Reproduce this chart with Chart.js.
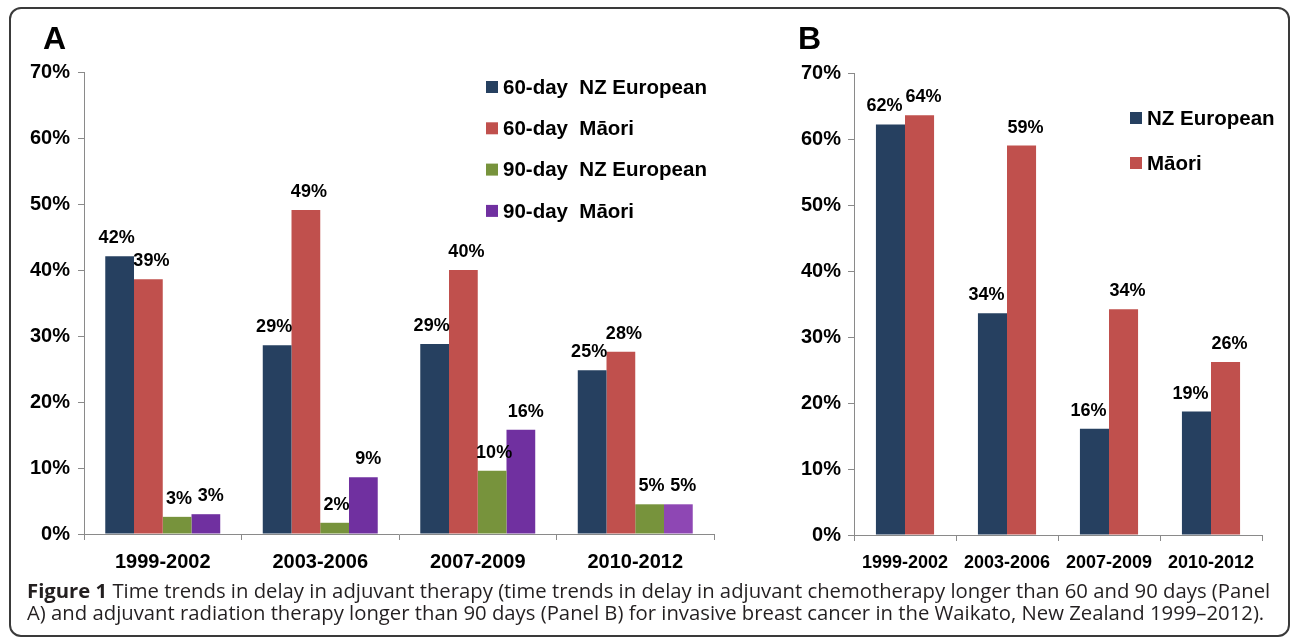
<!DOCTYPE html>
<html>
<head>
<meta charset="utf-8">
<script src="https://cdn.jsdelivr.net/npm/chart.js@4.4.1/dist/chart.umd.min.js"></script>
<style>
  html, body { margin: 0; padding: 0; background: #fff; }
  #wrap { position: relative; width: 1290px; height: 638px; overflow: hidden; background: #fff; }
  #frame { position: absolute; left: 9px; top: 7px; width: 1281px; height: 630px; border: 2px solid #3a3a3a; border-radius: 12px; box-sizing: border-box; }
  .panel { position: absolute; top: 0; }
  .ptitle { position: absolute; font-family: "Liberation Sans", Arial, sans-serif; font-weight: bold; font-size: 32px; line-height: 32px; color: #000; }
  #caption { position: absolute; left: 27px; top: 579px; font-family: "Open Sans", sans-serif; font-size: 20.3px; line-height: 22px; color: #231f20; white-space: nowrap; }
  #caption b { font-weight: bold; }
</style>
</head>
<body>
<div id="wrap">
  <div id="frame"></div>
  <canvas id="chartA" class="panel" width="760" height="580" style="left:0px;width:760px;height:580px;"></canvas>
  <canvas id="chartB" class="panel" width="530" height="580" style="left:760px;width:530px;height:580px;"></canvas>
  <div class="ptitle" style="left:43px;top:22px;">A</div>
  <div class="ptitle" style="left:798px;top:22px;">B</div>
  <div id="caption"><b>Figure 1</b> Time trends in delay in adjuvant therapy (time trends in delay in adjuvant chemotherapy longer than 60 and 90 days (Panel<br>A) and adjuvant radiation therapy longer than 90 days (Panel B) for invasive breast cancer in the Waikato, New Zealand 1999–2012).</div>
</div>
<script>
// ---- data ----
const categories = ['1999-2002', '2003-2006', '2007-2009', '2010-2012'];
const panelA_60_NZEuropean = [42.1, 28.6, 28.8, 24.8];
const panelA_60_Maori      = [38.6, 49.1, 40.0, 27.6];
const panelA_90_NZEuropean = [2.6, 1.7, 9.6, 4.5];
const panelA_90_Maori      = [3.0, 8.6, 15.8, 4.5];
const panelB_NZEuropean    = [62.2, 33.6, 16.1, 18.7];
const panelB_Maori         = [63.6, 59.0, 34.2, 26.2];
const yTickValues = [0, 10, 20, 30, 40, 50, 60, 70];

// ---- style ----
const FONT = '"Liberation Sans", Arial, Helvetica, sans-serif';
const NAVY = '#264060', RED = '#C0504D', GREEN = '#77933C', PURPLE = '#7030A0', PURPLE_LIGHT = '#8E47B4';
const AXIS = '#8a8a8a';

const valueLabels = {
  id: 'valueLabels',
  afterDatasetsDraw(chart, args, opts) {
    const ctx = chart.ctx;
    ctx.save();
    ctx.font = 'bold ' + opts.size + 'px ' + FONT;
    ctx.fillStyle = '#000';
    ctx.textAlign = 'center';
    ctx.textBaseline = 'alphabetic';
    chart.data.datasets.forEach((ds, i) => {
      const meta = chart.getDatasetMeta(i);
      const dx = (opts.dx && opts.dx[i]) || 0;
      meta.data.forEach((bar, j) => {
        const v = ds.data[j];
        ctx.fillText(Math.round(v) + '%', bar.x + dx, bar.y - opts.gap);
      });
    });
    ctx.restore();
  }
};

const boxLegend = {
  id: 'boxLegend',
  afterDraw(chart, args, opts) {
    const ctx = chart.ctx;
    ctx.save();
    ctx.font = 'bold ' + opts.size + 'px ' + FONT;
    ctx.textAlign = 'left';
    ctx.textBaseline = 'middle';
    chart.data.datasets.forEach((ds, i) => {
      const cy = opts.y + i * opts.step;
      const col = Array.isArray(ds.backgroundColor) ? ds.backgroundColor[0] : ds.backgroundColor;
      ctx.fillStyle = col;
      ctx.fillRect(opts.x, cy - opts.box / 2, opts.box, opts.box);
      ctx.fillStyle = '#000';
      ctx.fillText(ds.label, opts.x + opts.box + 5, cy + 1);
    });
    ctx.restore();
  }
};

function yAxis(width, fontSize, pad) {
  return {
    min: 0, max: 70,
    afterFit: s => { s.width = width; },
    afterBuildTicks: s => { s.ticks = yTickValues.map(v => ({ value: v })); },
    ticks: { callback: v => v + '%', color: '#000', padding: pad, font: { family: FONT, size: fontSize, weight: 'bold' } },
    grid: { drawOnChartArea: false, drawTicks: true, tickLength: 6, color: AXIS },
    border: { color: AXIS, width: 1 }
  };
}
function xAxis(height, fontSize, pad) {
  return {
    afterFit: s => { s.height = height; },
    ticks: { color: '#000', padding: pad, maxRotation: 0, autoSkip: false, font: { family: FONT, size: fontSize, weight: 'bold' } },
    grid: { drawOnChartArea: false, drawTicks: true, tickLength: 6, color: AXIS, offset: true },
    border: { color: AXIS, width: 1 }
  };
}

new Chart(document.getElementById('chartA'), {
  type: 'bar',
  data: {
    labels: categories,
    datasets: [
      { label: '60-day  NZ European', data: panelA_60_NZEuropean, backgroundColor: NAVY },
      { label: '60-day  Māori', data: panelA_60_Maori, backgroundColor: RED },
      { label: '90-day  NZ European', data: panelA_90_NZEuropean, backgroundColor: GREEN },
      { label: '90-day  Māori', data: panelA_90_Maori, backgroundColor: [PURPLE, PURPLE, PURPLE, PURPLE_LIGHT] }
    ]
  },
  plugins: [valueLabels, boxLegend],
  options: {
    responsive: false, animation: false, devicePixelRatio: 1,
    layout: { padding: { left: 0, top: 72, right: 46, bottom: 0 } },
    datasets: { bar: { categoryPercentage: 0.73, barPercentage: 1.0, borderWidth: 0 } },
    scales: { x: xAxis(46, 20, 10), y: yAxis(84, 20, 8) },
    plugins: {
      legend: { display: false }, tooltip: { enabled: false },
      valueLabels: { size: 18, gap: 13, dx: [-3, 3, 2, 5] },
      boxLegend: { x: 486, y: 87, step: 41.3, box: 12, size: 20.5 }
    }
  }
});

new Chart(document.getElementById('chartB'), {
  type: 'bar',
  data: {
    labels: categories,
    datasets: [
      { label: 'NZ European', data: panelB_NZEuropean, backgroundColor: NAVY },
      { label: 'Māori', data: panelB_Maori, backgroundColor: RED }
    ]
  },
  plugins: [valueLabels, boxLegend],
  options: {
    responsive: false, animation: false, devicePixelRatio: 1,
    layout: { padding: { left: 0, top: 73, right: 28, bottom: 0 } },
    datasets: { bar: { categoryPercentage: 0.57, barPercentage: 1.0, borderWidth: 0 } },
    scales: { x: xAxis(45, 18, 11), y: yAxis(94, 20, 7) },
    plugins: {
      legend: { display: false }, tooltip: { enabled: false },
      valueLabels: { size: 18, gap: 13, dx: [-6, 4] },
      boxLegend: { x: 370, y: 118, step: 45, box: 12, size: 20.5 }
    }
  }
});
</script>
</body>
</html>
